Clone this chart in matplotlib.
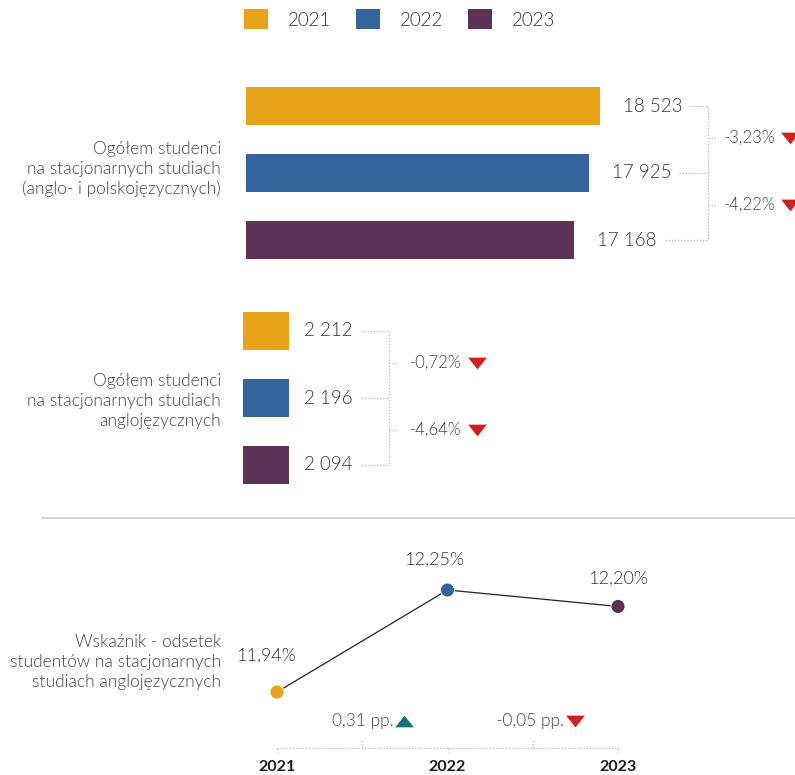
import matplotlib
matplotlib.use('Agg')
import matplotlib.pyplot as plt
from matplotlib.patches import Patch
from matplotlib.path import Path
from matplotlib.transforms import blended_transform_factory, offset_copy

plt.rcParams['font.family'] = ['Lato', 'DejaVu Sans']

# ---------------- data ----------------
years = ['2021', '2022', '2023']
year_colors = ['#E8A319', '#33659C', '#5C3256']
total_students = [18523, 17925, 17168]
total_changes = [-3.23, -4.22]
english_students = [2212, 2196, 2094]
english_changes = [-0.72, -4.64]
share_values = [11.94, 12.25, 12.20]
share_changes = [0.31, -0.05]
label_total = 'Ogółem studenci\nna stacjonarnych studiach\n(anglo- i polskojęzycznych)'
label_english = 'Ogółem studenci\nna stacjonarnych studiach\nanglojęzycznych'
label_share = 'Wskaźnik - odsetek\nstudentów na stacjonarnych\nstudiach anglojęzycznych'

# ---------------- style ----------------
W, H = 795, 775
VAL_COLOR = '#333333'
TXT_COLOR = '#444444'
DOT_COLOR = '#b5b5b5'
RED = '#D01F21'
TEAL = '#17727B'
LIGHT = 300
PT = 0.72  # points per pixel at dpi 100


def fx(x):
    return x / W


def fy(y):
    return 1 - y / H


def fmt_int(v):
    return f'{v:,}'.replace(',', ' ')


def fmt_pct(v, suffix='%'):
    return f'{v:.2f}'.replace('.', ',') + suffix


tri_down = Path([(-0.8, 0.5), (0.8, 0.5), (0, -0.5), (-0.8, 0.5)],
                [Path.MOVETO, Path.LINETO, Path.LINETO, Path.CLOSEPOLY])
tri_up = Path([(-0.8, -0.5), (0.8, -0.5), (0, 0.5), (-0.8, -0.5)],
              [Path.MOVETO, Path.LINETO, Path.LINETO, Path.CLOSEPOLY])

fig = plt.figure(figsize=(W / 100, H / 100), dpi=100)

# overlay axes in pixel coordinates for connector lines
ov = fig.add_axes([0, 0, 1, 1])
ov.set_xlim(0, W)
ov.set_ylim(H, 0)
ov.axis('off')
ov.set_zorder(5)
ov.patch.set_alpha(0)

# ---------------- legend ----------------
handles = [Patch(facecolor=c, edgecolor='none') for c in year_colors]
fig.legend(handles, years, loc='upper left', bbox_to_anchor=(fx(244), fy(9)),
           ncol=3, frameon=False, fontsize=13.5, handlelength=1.3, handleheight=1.3,
           handletextpad=1.05, columnspacing=1.3, borderpad=0, borderaxespad=0,
           labelcolor='#333333', prop={'weight': LIGHT, 'size': 13.5})

# ---------------- section 1: total students ----------------
ax1 = fig.add_axes([fx(246), fy(266), 549 / W, 186 / H])
ax1.axis('off')
ax1.barh(range(3), total_students, height=38 / 67, color=year_colors)
ax1.set_ylim(2 + 26 / 67, -26 / 67)
ax1.set_xlim(0, 28730)
t1 = []
for i, v in enumerate(total_students):
    t1.append(ax1.annotate(fmt_int(v), (v, i), xytext=(23 * PT, 0), textcoords='offset points',
                           ha='left', va='center', fontsize=13.5, color=VAL_COLOR,
                           fontweight=LIGHT))

# ---------------- section 2: English-language students ----------------
ax2 = fig.add_axes([fx(243), fy(498.5), 46 / W, 201 / H])
ax2.axis('off')
ax2.barh(range(3), [1, 1, 1], height=38 / 67, color=year_colors)
ax2.set_ylim(2 + 33.5 / 67, -33.5 / 67)
ax2.set_xlim(0, 1)
t2 = []
for i, v in enumerate(english_students):
    t2.append(ax2.annotate(fmt_int(v), (1, i), xycoords=('axes fraction', 'data'),
                           xytext=(64 * PT, 0), textcoords='offset points',
                           ha='right', va='center', fontsize=13.5, color=VAL_COLOR,
                           fontweight=LIGHT))

fig.canvas.draw()
renderer = fig.canvas.get_renderer()


def draw_bracket(ax, texts, bracket_x, tick_len, changes, text_x, tri_x):
    ys = []
    for i, t in enumerate(texts):
        bb = t.get_window_extent(renderer)
        y = H - ax.transData.transform((0, i))[1]
        ys.append(y)
        x0 = bb.x1 + 8
        ov.plot([x0, bracket_x], [y, y], ls=(0, (1, 1.5)), lw=0.9, color=DOT_COLOR)
    ov.plot([bracket_x, bracket_x], [ys[0], ys[-1]], ls=(0, (1, 1.5)), lw=0.9, color=DOT_COLOR)
    for k, ch in enumerate(changes):
        ym = (ys[k] + ys[k + 1]) / 2 - 2
        ov.plot([bracket_x, bracket_x + tick_len], [ym, ym], ls=(0, (1, 1.5)), lw=0.9,
                color=DOT_COLOR)
        ov.text(text_x, ym, fmt_pct(ch), ha='left', va='center', fontsize=12,
                color=TXT_COLOR, fontweight=LIGHT)
        ov.plot([tri_x], [ym], marker=tri_down if ch < 0 else tri_up, ms=13.5,
                color=RED if ch < 0 else TEAL, mec='none', clip_on=False)


draw_bracket(ax1, t1, 708, 9, total_changes, 724, 790)
draw_bracket(ax2, t2, 389, 8, english_changes, 410, 477)

# left labels
for txt, yc in [(label_total, 169), (label_english, 401), (label_share, 662)]:
    fig.text(fx(221), fy(yc), txt, ha='right', va='center', multialignment='right',
             fontsize=12.5, color=TXT_COLOR, linespacing=1.3, fontweight=LIGHT)

# separator
ov.plot([42, W], [518, 518], color='#cccccc', lw=1.2)

# ---------------- section 3: share line ----------------
ax3 = fig.add_axes([fx(236), 0, 424 / W, 245 / H])
ax3.axis('off')
xs = list(range(len(years)))
ax3.set_xlim(-41 / 170.5, 2 + 42 / 170.5)
ax3.set_ylim(11.94 - 83 / 329, 12.25 + 60 / 329)
ax3.plot(xs, share_values, color='#222222', lw=0.9, zorder=2)
ax3.scatter(xs, share_values, s=(14 * PT) ** 2, c=year_colors, zorder=3,
            edgecolors='white', linewidths=0.6)
label_offsets = [(-11, 36), (-13, 30), (0, 28)]
for x, v, off in zip(xs, share_values, label_offsets):
    ax3.annotate(fmt_pct(v), (x, v), xytext=(off[0] * PT, off[1] * PT),
                 textcoords='offset points', ha='center', va='center', fontsize=13,
                 color=VAL_COLOR, fontweight=LIGHT)

tr = blended_transform_factory(ax3.transData, ax3.transAxes)
y_ax = (775 - 748) / 245
ax3.plot([0, 2], [y_ax, y_ax], transform=tr, ls=(0, (1, 1.5)), lw=0.9, color=DOT_COLOR,
         clip_on=False)
for x in xs:
    ax3.plot([x, x], [y_ax, (775 - 752) / 245], transform=tr, ls=(0, (1, 1.5)), lw=0.9,
             color=DOT_COLOR, clip_on=False)
    ax3.text(x, (775 - 767) / 245, years[x], transform=tr, ha='center', va='center',
             fontsize=11.5, fontweight='bold', color='#1a1a1a')
for k, ch in enumerate(share_changes):
    xm = k + 0.5
    ax3.plot([xm, xm], [y_ax, (775 - 740) / 245], transform=tr, ls=(0, (1, 1.5)), lw=0.9,
             color=DOT_COLOR, clip_on=False)
    yc = (775 - 721) / 245
    lab = f'{ch:.2f}'.replace('.', ',') + ' pp.'
    ax3.text(xm, yc, lab, transform=offset_copy(tr, fig=fig, x=31 * PT, y=0, units='points'),
             ha='right', va='center', fontsize=12.5, color=TXT_COLOR, fontweight=LIGHT)
    ax3.plot([xm], [yc], transform=offset_copy(tr, fig=fig, x=42 * PT, y=0, units='points'),
             marker=tri_down if ch < 0 else tri_up, ms=13.5, color=RED if ch < 0 else TEAL,
             mec='none', clip_on=False)

fig.savefig('out.png', dpi=100)
